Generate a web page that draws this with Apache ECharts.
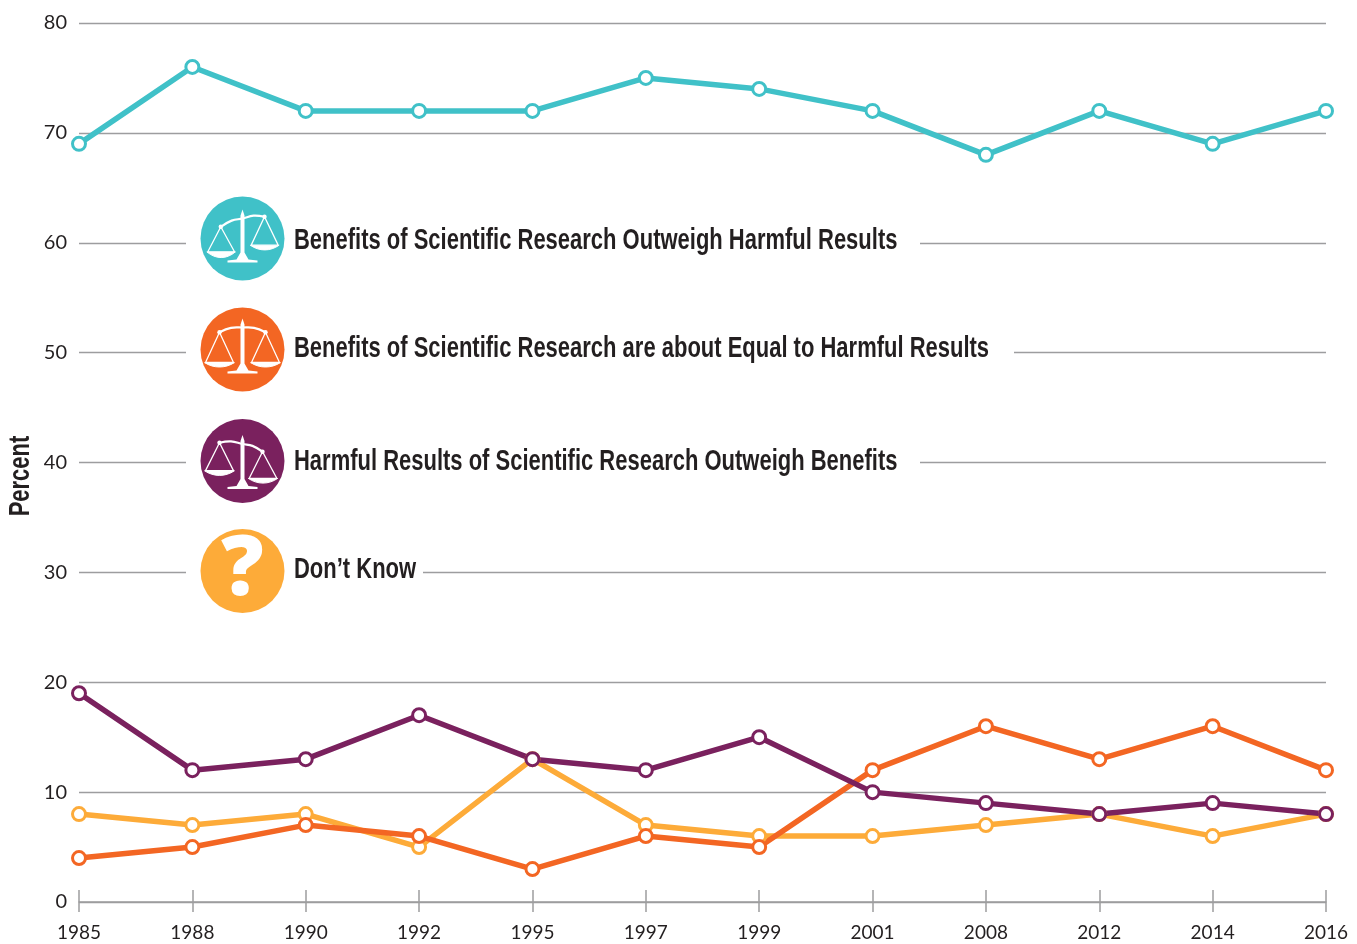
<!DOCTYPE html>
<html>
<head>
<meta charset="utf-8">
<title>Public opinion on scientific research</title>
<style>
  html, body { margin: 0; padding: 0; background: #fff; }
  #chart { width: 1357px; height: 944px; }
</style>
<script src="https://cdn.jsdelivr.net/npm/echarts@6/dist/echarts.min.js"></script>
</head>
<body>
<div id="chart"></div>
<script>
var years = ['1985', '1988', '1990', '1992', '1995', '1997', '1999', '2001', '2008', '2012', '2014', '2016'];
var benefits = [69, 76, 72, 72, 72, 75, 74, 72, 68, 72, 69, 72];
var dontKnow = [8, 7, 8, 5, 13, 7, 6, 6, 7, 8, 6, 8];
var equal = [4, 5, 7, 6, 3, 6, 5, 12, 16, 13, 16, 12];
var harmful = [19, 12, 13, 17, 13, 12, 15, 10, 9, 8, 9, 8];
var labels = [
  'Benefits of Scientific Research Outweigh Harmful Results',
  'Benefits of Scientific Research are about Equal to Harmful Results',
  'Harmful Results of Scientific Research Outweigh Benefits',
  'Don\u2019t Know'
];

var TEAL = '#40C1C8';
var ORANGE = '#F36623';
var PURPLE = '#7A215E';
var YELLOW = '#FDAB39';
var GRID = '#9d9d9f';
var INK = '#231f20';
var HEAD = '"Liberation Sans", sans-serif';
var BODY = 'Lato, sans-serif';
var NARROW = 0.758;

function lineSeries(name, data, color) {
  return {
    name: name,
    type: 'line',
    data: data,
    symbol: 'circle',
    symbolSize: 13,
    showSymbol: true,
    animation: false,
    lineStyle: { color: color, width: 5.5 },
    itemStyle: { color: '#fff', borderColor: color, borderWidth: 3 }
  };
}

// one pan: two strings from the pivot and a filled bowl
function panShapes(p, x0, x1, y, b) {
  return [
    { type: 'polygon', z: 21, shape: { points: [p, [x0, y], [x1, y]] }, style: { fill: null, stroke: '#fff', lineWidth: 1.3 } },
    { type: 'bezierCurve', z: 21, shape: { x1: x0 - 1, y1: y, x2: x1 + 1, y2: y, cpx1: x0 + 8, cpy1: b + 2, cpx2: x1 - 8, cpy2: b + 2 }, style: { fill: '#fff', stroke: '#fff', lineWidth: 1 } },
    { type: 'circle', z: 21, shape: { cx: p[0], cy: p[1], r: 2.2 }, style: { fill: '#fff' } }
  ];
}

// balance scale drawn relative to the icon centre
function scaleIcon(cx, cy, color, s) {
  var t = s.top;
  var b = s.base;
  var kids = [
    { type: 'circle', z: 20, shape: { cx: 0, cy: 0, r: 42 }, style: { fill: color } },
    { type: 'polyline', z: 21, shape: { smooth: 0.4, points: [s.l, [s.l[0] * 0.5, (s.l[1] + t + 9) / 2 - 2], [0, t + 9], [s.r[0] * 0.5, (s.r[1] + t + 9) / 2 - 2], s.r] }, style: { fill: null, stroke: '#fff', lineWidth: 2.2 } },
    { type: 'polygon', z: 21, shape: { points: [[0, t], [2, t + 6], [2, b - 9], [6, b - 2], [15, b - 1], [15, b + 1], [-15, b + 1], [-15, b - 1], [-6, b - 2], [-2, b - 9], [-2, t + 6]] }, style: { fill: '#fff' } }
  ];
  kids = kids.concat(panShapes(s.l, s.lp[0], s.lp[1], s.lp[2], s.lp[3]));
  kids = kids.concat(panShapes(s.r, s.rp[0], s.rp[1], s.rp[2], s.rp[3]));
  return { type: 'group', x: cx, y: cy, children: kids };
}

function legendText(text, y, x) {
  return {
    type: 'text',
    x: x,
    y: y,
    z: 20,
    scaleX: NARROW,
    style: { text: text, fill: INK, font: 'bold 29px ' + HEAD, textVerticalAlign: 'middle', textAlign: 'left' }
  };
}

// white strips that interrupt the gridlines behind the key
function gap(y, x1) {
  return { type: 'rect', z: 10, shape: { x: 186, y: y - 3, width: x1 - 186, height: 6 }, style: { fill: '#fff' } };
}

var chart = echarts.init(document.getElementById('chart'));

chart.setOption({
  backgroundColor: '#fff',
  animation: false,
  grid: { left: 79, right: 31, top: 23, bottom: 42, outerBoundsMode: 'none' },
  xAxis: [
    {
      type: 'category',
      data: years,
      boundaryGap: false,
      axisLine: { show: true, onZero: false, lineStyle: { color: GRID, width: 1.5 } },
      axisTick: { show: true, alignWithLabel: true, length: 10, lineStyle: { color: GRID, width: 1.5 } },
      axisLabel: { color: INK, fontFamily: BODY, fontSize: 19, margin: 21, hideOverlap: false, interval: 0 }
    },
    {
      type: 'category',
      data: years,
      position: 'bottom',
      boundaryGap: false,
      axisLine: { show: false },
      axisTick: { show: true, inside: true, length: 12, lineStyle: { color: GRID, width: 1.5 } },
      axisLabel: { show: false }
    }
  ],
  yAxis: {
    type: 'value',
    min: 0,
    max: 80,
    interval: 10,
    axisLine: { show: false },
    axisTick: { show: false },
    axisLabel: { color: INK, fontFamily: BODY, fontSize: 20, margin: 12 },
    splitLine: { lineStyle: { color: GRID, width: 1.3 } }
  },
  series: [
    lineSeries('Benefits', benefits, TEAL),
    lineSeries('Don\u2019t Know', dontKnow, YELLOW),
    lineSeries('Equal', equal, ORANGE),
    lineSeries('Harmful', harmful, PURPLE)
  ],
  graphic: {
    elements: [
      gap(242.5, 920),
      gap(352.5, 1014),
      gap(462.5, 920),
      gap(572, 423),
      scaleIcon(242.5, 238.5, TEAL, { top: -29, base: 23, l: [-21.7, -11.7], r: [22, -21.7], lp: [-34.7, -8, 13.3, 19], rp: [8.7, 35.7, 6.7, 11] }),
      scaleIcon(242.5, 349.5, ORANGE, { top: -31, base: 23, l: [-23, -17.3], r: [23, -17.3], lp: [-37, -9, 13, 17], rp: [9, 37, 13, 17] }),
      scaleIcon(242.5, 461, PURPLE, { top: -26, base: 27, l: [-23, -18.3], r: [20, -9.3], lp: [-37, -9, 9.7, 14], rp: [6.7, 34.3, 17.3, 21.7] }),
      {
        type: 'group',
        x: 242.5,
        y: 571,
        children: [
          { type: 'circle', z: 20, shape: { cx: 0, cy: 0, r: 42 }, style: { fill: YELLOW } },
          { type: 'text', z: 21, x: 0, y: 0, style: { text: '?', fill: '#fff', font: '900 84px "Open Sans", sans-serif', textAlign: 'center', textVerticalAlign: 'middle' } }
        ]
      },
      legendText(labels[0], 241, 294),
      legendText(labels[1], 349, 294),
      legendText(labels[2], 462, 294),
      legendText(labels[3], 570, 294),
      {
        type: 'text',
        x: 21,
        y: 476,
        z: 20,
        rotation: Math.PI / 2,
        scaleX: NARROW,
        style: { text: 'Percent', fill: INK, font: 'bold 29px ' + HEAD, textVerticalAlign: 'middle', textAlign: 'center' }
      }
    ]
  }
});
</script>
</body>
</html>
